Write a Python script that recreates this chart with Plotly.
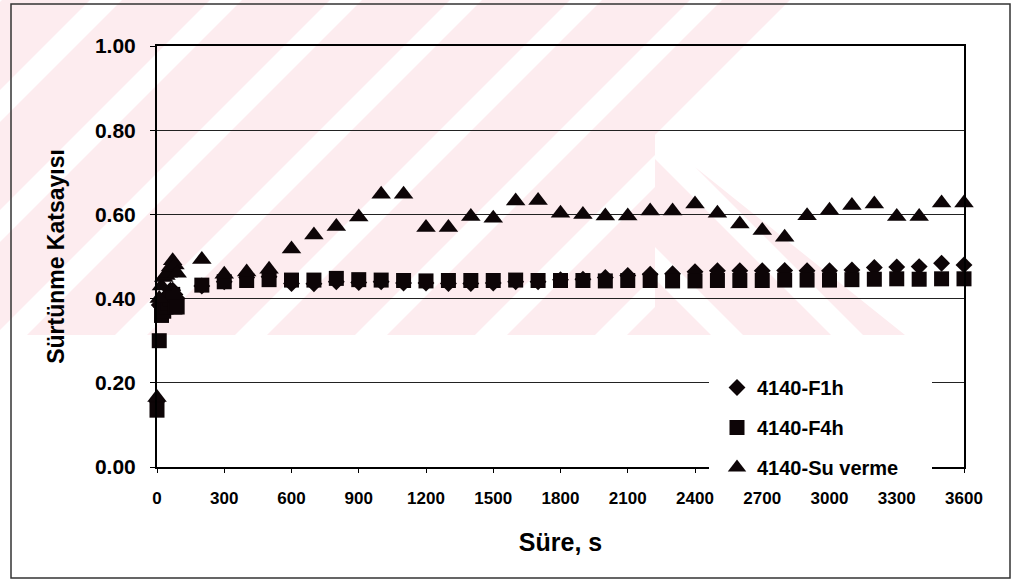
import plotly.graph_objects as go

# ---------------- data ----------------
time_s = [0, 10, 20, 30, 40, 50, 60, 70, 80, 90,
          200, 300, 400, 500, 600, 700, 800, 900, 1000, 1100, 1200, 1300, 1400, 1500,
          1600, 1700, 1800, 1900, 2000, 2100, 2200, 2300, 2400, 2500, 2600, 2700,
          2800, 2900, 3000, 3100, 3200, 3300, 3400, 3500, 3600]

f1h = [0.155, 0.385, 0.38, 0.39, 0.40, 0.41, 0.42, 0.42, 0.41, 0.40,
       0.430, 0.440, 0.450, 0.452, 0.436, 0.435, 0.440, 0.438, 0.440, 0.437, 0.437, 0.436, 0.436, 0.437,
       0.440, 0.440, 0.445, 0.446, 0.450, 0.455, 0.458, 0.459, 0.464, 0.466, 0.466, 0.466,
       0.467, 0.466, 0.466, 0.468, 0.474, 0.475, 0.476, 0.484, 0.480]

f4h = [0.135, 0.300, 0.36, 0.37, 0.38, 0.39, 0.40, 0.41, 0.38, 0.38,
       0.432, 0.440, 0.443, 0.445, 0.444, 0.444, 0.448, 0.445, 0.444, 0.443, 0.442, 0.443, 0.443, 0.443,
       0.444, 0.443, 0.443, 0.443, 0.442, 0.443, 0.443, 0.442, 0.442, 0.443, 0.443, 0.443,
       0.444, 0.444, 0.444, 0.445, 0.446, 0.447, 0.446, 0.447, 0.447]

su_verme = [0.165, 0.40, 0.43, 0.45, 0.455, 0.46, 0.475, 0.49, 0.48, 0.46,
            0.493, 0.458, 0.463, 0.470, 0.518, 0.551, 0.571, 0.594, 0.648, 0.648, 0.569, 0.569, 0.595, 0.591,
            0.632, 0.633, 0.603, 0.600, 0.596, 0.596, 0.608, 0.608, 0.625, 0.603, 0.577, 0.562,
            0.546, 0.597, 0.610, 0.621, 0.625, 0.595, 0.595, 0.627, 0.627]

series_names = ["4140-F1h", "4140-F4h", "4140-Su verme"]
x_ticks = [0, 300, 600, 900, 1200, 1500, 1800, 2100, 2400, 2700, 3000, 3300, 3600]
y_ticks = [0.0, 0.2, 0.4, 0.6, 0.8, 1.0]

# ---------------- layout geometry (pixels) ----------------
W, H = 1017, 585
L, R, T, B = 157, 964, 46, 467
FONT = "Liberation Sans, Arial, Helvetica, sans-serif"


def px(x):
    return (x - L) / (R - L)


def py(y):
    return (B - y) / (B - T)


# ---------------- faint watermark (background decoration) ----------------
def clip(poly, a, b, c):
    """keep part of polygon with a*x + b*y >= c"""
    out = []
    n = len(poly)
    for i in range(n):
        p, q = poly[i], poly[(i + 1) % n]
        fp = a * p[0] + b * p[1] - c
        fq = a * q[0] + b * q[1] - c
        if fp >= 0:
            out.append(p)
        if (fp >= 0) != (fq >= 0):
            t = fp / (fp - fq)
            out.append((p[0] + t * (q[0] - p[0]), p[1] + t * (q[1] - p[1])))
    return out


region_a = [(0, 0), (790, 0), (655, 135), (655, 335), (0, 335)]
region_b = [(655, 135), (905, 335), (655, 335)]
shapes = []
PINK = "#fdecef"


def add_bands(region, a, b, start, period, width):
    for k in range(-20, 20):
        lo = start + k * period
        hi = lo + width
        poly = clip(region, a, b, lo)
        if poly:
            poly = clip(poly, -a, -b, -hi)
        if len(poly) >= 3:
            path = "M " + " L ".join(f"{px(x):.5f},{py(y):.5f}" for x, y in poly) + " Z"
            shapes.append(dict(type="path", xref="paper", yref="paper", path=path,
                               fillcolor=PINK, line=dict(width=0), layer="below"))


add_bands(region_a, 1, 1, 842, 120, 88)
add_bands(region_b, 1, -1, 528, 120, 88)

# white patch behind the legend (legend box covers grid line and axis there)
shapes.append(dict(type="rect", xref="paper", yref="paper",
                   x0=px(709), x1=px(932), y0=py(477), y1=py(357),
                   fillcolor="white", line=dict(width=0), layer="above"))

# outer frame
shapes.append(dict(type="rect", xref="paper", yref="paper",
                   x0=px(11), x1=px(1010), y0=py(4), y1=py(578),
                   line=dict(color="#333333", width=1.5), layer="above"))

# ---------------- traces ----------------
fig = go.Figure()
symbols = ["diamond", "square", "triangle-up"]
sizes = [13, 15, 17]
for name, ys, sym, sz in zip(series_names, [f1h, f4h, su_verme], symbols, sizes):
    fig.add_trace(go.Scatter(
        x=time_s, y=ys, mode="markers", name=name, legendgroup=name,
        marker=dict(symbol=sym, size=sz, color="#0d0507", line=dict(width=0)),
        cliponaxis=False,
    ))

fig.update_layout(
    width=W, height=H,
    margin=dict(l=L, r=W - R, t=T, b=H - B, pad=0),
    paper_bgcolor="white",
    plot_bgcolor="rgba(0,0,0,0)",
    font=dict(family=FONT, color="black"),
    shapes=shapes,
    showlegend=True,
    legend=dict(
        x=px(717), y=py(368), xanchor="left", yanchor="top",
        bgcolor="white", borderwidth=0,
        font=dict(family=FONT, size=20, color="black", weight="bold"),
        tracegroupgap=11, itemwidth=30,
    ),
    xaxis=dict(
        range=[0, 3600], tickvals=x_ticks, ticktext=[str(v) for v in x_ticks],
        showgrid=False, zeroline=False,
        showline=True, linecolor="black", linewidth=2, mirror=True,
        ticks="outside", ticklen=4, tickcolor="black", tickwidth=1,
        ticklabelstandoff=11,
        tickfont=dict(family=FONT, size=17, weight="bold"),
        title=dict(text="Süre, s", font=dict(family=FONT, size=25, weight="bold"), standoff=26),
    ),
    yaxis=dict(
        range=[0, 1], tickvals=y_ticks, tickformat=".2f",
        showgrid=True, gridcolor="#222222", gridwidth=1, zeroline=False,
        showline=True, linecolor="black", linewidth=2, mirror=True,
        ticks="outside", ticklen=5, tickcolor="black", tickwidth=1,
        ticklabelstandoff=10,
        tickfont=dict(family=FONT, size=21, weight="bold"),
        title=dict(text="Sürtünme Katsayısı", font=dict(family=FONT, size=23, weight="bold"), standoff=24),
    ),
)

fig.write_html("out.html", config={"displayModeBar": False},
               post_script="document.body.style.margin='0';")
